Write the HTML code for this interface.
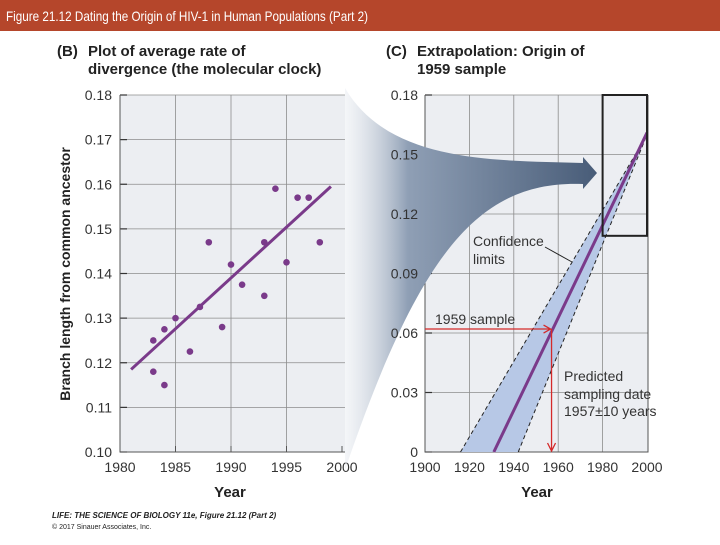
<!DOCTYPE html>
<html><head><meta charset="utf-8"><style>
body{margin:0;width:720px;height:540px;background:#fff;overflow:hidden;font-family:"Liberation Sans",sans-serif}
</style></head><body>
<svg id="svg" width="720" height="540" viewBox="0 0 720 540" xmlns="http://www.w3.org/2000/svg">
<defs>
<linearGradient id="fg" x1="0" x2="1" y1="0" y2="0">
<stop offset="0" stop-color="#e4e8ee" stop-opacity="0.4"/>
<stop offset="0.25" stop-color="#8f9fb5"/>
<stop offset="1" stop-color="#485c78"/>
</linearGradient>
</defs>
<rect x="0" y="0" width="720" height="31" fill="#b5462b"/>
<text x="6" y="21" fill="#fff" font-size="14" textLength="362" lengthAdjust="spacingAndGlyphs">Figure 21.12  Dating the Origin of HIV-1 in Human Populations (Part 2)</text>
<g font-weight="bold" font-size="15" fill="#222">
<text x="57" y="56">(B)</text><text x="88" y="56">Plot of average rate of</text><text x="88" y="74">divergence (the molecular clock)</text>
<text x="386" y="56">(C)</text><text x="417" y="56">Extrapolation: Origin of</text><text x="417" y="74">1959 sample</text>
</g>
<rect x="120" y="95" width="225" height="357" fill="#eceef2"/>
<rect x="425" y="95" width="223" height="357" fill="#eceef2"/>
<g id="gb"></g>
<g id="gc"></g>
<path d="M345,88 C390,165 500,160 583,163 L583,157 L597,173 L583,189 L583,184 C480,180 420,250 345,470 Z" fill="url(#fg)"/>
<g id="gc2"></g>
<text x="230" y="497" font-size="15" font-weight="bold" text-anchor="middle" fill="#222">Year</text>
<text x="537" y="497" font-size="15" font-weight="bold" text-anchor="middle" fill="#222">Year</text>
<text transform="translate(70,274) rotate(-90)" font-size="14" font-weight="bold" text-anchor="middle" fill="#222">Branch length from common ancestor</text>
<text x="52" y="518" font-size="8" font-weight="bold" font-style="italic" fill="#222">LIFE: THE SCIENCE OF BIOLOGY 11e, Figure 21.12 (Part 2)</text>
<text x="52" y="529" font-size="7" fill="#222">© 2017 Sinauer Associates, Inc.</text>
</svg>
<script>
const bTicksX=[1980,1985,1990,1995,2000];
const bTicksY=[0.10,0.11,0.12,0.13,0.14,0.15,0.16,0.17,0.18];
const bPointYears=[1983,1983,1984,1984,1985,1986.3,1987.2,1988,1989.2,1990,1991,1993,1993,1994,1995,1996,1997,1998];
const bPointVals=[0.125,0.118,0.1275,0.115,0.130,0.1225,0.1325,0.147,0.128,0.142,0.1375,0.147,0.135,0.159,0.1425,0.157,0.157,0.147];
const bFitYears=[1981,1999];
const bFitVals=[0.1185,0.1595];
const cTicksX=[1900,1920,1940,1960,1980,2000];
const cTicksY=[0,0.03,0.06,0.09,0.12,0.15,0.18];
const cLineYears=[1931,2000];
const cLineVals=[0,0.161];
const cLowerYears=[1916,2000];
const cLowerVals=[0,0.16];
const cUpperYears=[1942,2000];
const cUpperVals=[0,0.16];
const cSample=[1957,0.062];
const cBox=[1980,2000,0.109,0.18];

const NS='http://www.w3.org/2000/svg';
function mk(p,t,a){const e=document.createElementNS(NS,t);for(const k in a)e.setAttribute(k,a[k]);p.appendChild(e);return e;}
const bx=v=>120+(v-1980)/20*222, by=v=>452-(v-0.10)/0.08*357;
const cx=v=>425+(v-1900)/100*222, cy=v=>452-v/0.18*357;
const gb=document.getElementById('gb'), gc=document.getElementById('gc'), gc2=document.getElementById('gc2');

bTicksX.forEach((t,i)=>{
 if(i>0&&i<4){const l=mk(gb,'line',{x1:bx(t),x2:bx(t),y1:95,y2:452,stroke:'#8c8c8c','stroke-width':0.8});
 }
 const tk=mk(gb,'line',{x1:bx(t),x2:bx(t),y1:452,y2:446,stroke:'#555'});
 
 const tx=mk(gb,'text',{x:bx(t),y:472,'font-size':14,'text-anchor':'middle',fill:'#333'});tx.textContent=t;
 
});
bTicksY.forEach((t,i)=>{
 if(i>0){const l=mk(gb,'line',{x1:120,x2:345,y1:by(t),y2:by(t),stroke:'#8c8c8c','stroke-width':0.8});
 }
 const tk=mk(gb,'line',{x1:120,x2:127,y1:by(t),y2:by(t),stroke:'#333','stroke-width':1.2});
 
 const tx=mk(gb,'text',{x:112,y:by(t)+5,'font-size':14,'text-anchor':'end',fill:'#333'});tx.textContent=t.toFixed(2);
 
});
let ax=mk(gb,'path',{d:'M120,95 V452 H345',fill:'none',stroke:'#555','stroke-width':1});

let fl=mk(gb,'line',{x1:bx(bFitYears[0]),y1:by(bFitVals[0]),x2:bx(bFitYears[1]),y2:by(bFitVals[1]),stroke:'#7a3a8a','stroke-width':3});

bPointYears.forEach((y,i)=>{const c=mk(gb,'circle',{cx:bx(y),cy:by(bPointVals[i]),r:3.3,fill:'#7a3a8a'});
 });

cTicksX.forEach((t,i)=>{
 if(i>0&&i<5){const l=mk(gc,'line',{x1:cx(t),x2:cx(t),y1:95,y2:452,stroke:'#8c8c8c','stroke-width':0.8});
 }
 const tx=mk(gc,'text',{x:cx(t),y:472,'font-size':14,'text-anchor':'middle',fill:'#333'});tx.textContent=t;
 
});
cTicksY.forEach((t,i)=>{
 if(i>0){const l=mk(gc,'line',{x1:425,x2:648,y1:cy(t),y2:cy(t),stroke:'#8c8c8c','stroke-width':0.8});
 }
 const tk=mk(gc,'line',{x1:425,x2:432,y1:cy(t),y2:cy(t),stroke:'#333','stroke-width':1.2});
 
 const tx=mk(gc2,'text',{x:418,y:cy(t)+5,'font-size':14,'text-anchor':'end',fill:'#333'});tx.textContent=t===0?'0':t.toFixed(2);
 
});
ax=mk(gc,'path',{d:'M425,95 V452 H648 V95',fill:'none',stroke:'#555','stroke-width':1});

let band=mk(gc,'polygon',{points:`${cx(cLowerYears[0])},${cy(cLowerVals[0])} ${cx(cLowerYears[1])},${cy(cLowerVals[1])} ${cx(cUpperYears[0])},${cy(cUpperVals[0])}`,fill:'#b7c8e6'});


let l1=mk(gc2,'line',{x1:cx(cLowerYears[0]),y1:cy(cLowerVals[0]),x2:cx(cLowerYears[1]),y2:cy(cLowerVals[1]),stroke:'#222','stroke-dasharray':'4,3'});

let l2=mk(gc2,'line',{x1:cx(cUpperYears[0]),y1:cy(cUpperVals[0]),x2:cx(cUpperYears[1]),y2:cy(cUpperVals[1]),stroke:'#222','stroke-dasharray':'4,3'});

let el=mk(gc2,'line',{x1:cx(cLineYears[0]),y1:cy(cLineVals[0]),x2:cx(cLineYears[1]),y2:cy(cLineVals[1]),stroke:'#7a3a8a','stroke-width':3});

let bxr=mk(gc2,'rect',{x:cx(cBox[0]),y:cy(cBox[3]),width:cx(cBox[1])-cx(cBox[0]),height:cy(cBox[2])-cy(cBox[3]),fill:'none',stroke:'#222','stroke-width':2});

const sx=cx(cSample[0]), sy=cy(cSample[1]);
let rh=mk(gc2,'path',{d:`M425,${sy} H${sx-2} M${sx-8},${sy-4} L${sx-1},${sy} L${sx-8},${sy+4} M${sx},${sy} V${450} M${sx-4},${443} L${sx},${451} L${sx+4},${443}`,fill:'none',stroke:'#d42a2a','stroke-width':1.3});

let cl=mk(gc2,'line',{x1:545,y1:247,x2:572,y2:262,stroke:'#222'});

const labs=[['Confidence',473,246],['limits',473,264],['1959 sample',435,324],['Predicted',564,381],['sampling date',564,399],['1957±10 years',564,416]];
labs.forEach(a=>{const t=mk(gc2,'text',{x:a[1],y:a[2],'font-size':14,fill:'#333'});t.textContent=a[0];
 });
</script>
</body></html>
